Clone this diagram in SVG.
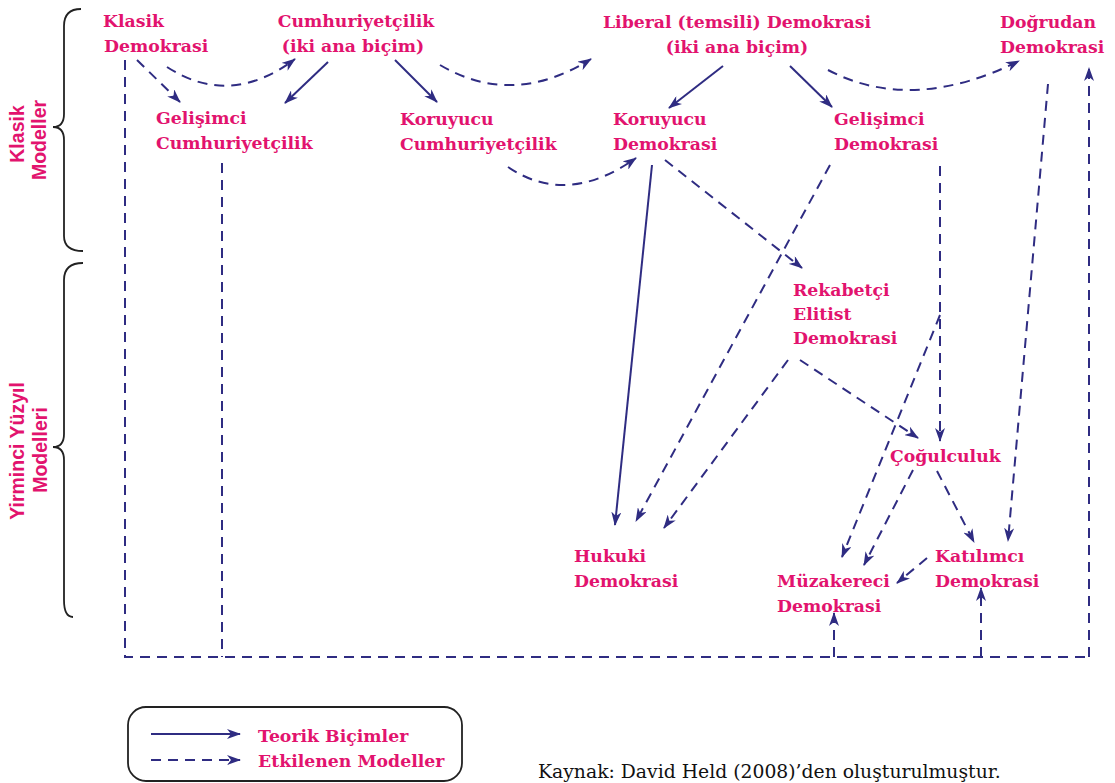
<svg xmlns="http://www.w3.org/2000/svg" width="1115" height="783" viewBox="0 0 1115 783">
  <style>
    .node text { font-family: "DejaVu Serif", serif; font-weight: bold; font-size: 17.3px; fill: #e2136e; }
    .side { font-family: "Liberation Sans", Arial, sans-serif; font-weight: bold; font-size: 19.5px; fill: #e2136e; text-anchor: middle; }
    .solid { fill: none; stroke: #2f2c82; stroke-width: 2; marker-end: url(#head); }
    .dash { fill: none; stroke: #2f2c82; stroke-width: 2; stroke-dasharray: 10 7; }
    .dash.arr { marker-end: url(#head); }
    .brace { fill: none; stroke: #222; stroke-width: 1.8; }
    .src { font-family: "DejaVu Serif", serif; font-size: 18.8px; fill: #111; }
  </style>
  <defs>
    <marker id="head" viewBox="0 0 14 10" refX="13" refY="5" markerWidth="14" markerHeight="10" markerUnits="userSpaceOnUse" orient="auto">
      <path d="M0,0 L14,5 L0,10 L4,5 z" fill="#2f2c82"/>
    </marker>
  </defs>

  <!-- period braces and labels -->
  <g id="period-labels">
    <path class="brace" d="M81,9 Q64,9 64,26 L64,114 Q64,127 53,127 Q64,127 64,140 L64,236 Q64,251 83,251"/>
    <text class="side" transform="translate(24,134) rotate(-90)">Klasik</text>
    <text class="side" transform="translate(46,140) rotate(-90)">Modeller</text>
    <path class="brace" d="M83,263 Q64,263 64,280 L64,434 Q64,447 53,447 Q64,447 64,460 L64,600 Q64,617 73,617"/>
    <text class="side" transform="translate(24,451) rotate(-90)">Yirminci Yüzyıl</text>
    <text class="side" transform="translate(47,450) rotate(-90)">Modelleri</text>
  </g>

  <!-- models -->
  <g id="klasik-demokrasi" class="node"><text x="103" y="27">Klasik</text><text x="104" y="52">Demokrasi</text></g>
  <g id="cumhuriyetcilik" class="node" text-anchor="middle"><text x="356" y="27">Cumhuriyetçilik</text><text x="353" y="52">(iki ana biçim)</text></g>
  <g id="liberal-demokrasi" class="node" text-anchor="middle"><text x="737" y="28">Liberal (temsili) Demokrasi</text><text x="737" y="53">(iki ana biçim)</text></g>
  <g id="dogrudan-demokrasi" class="node"><text x="1000" y="28">Doğrudan</text><text x="1000" y="53">Demokrasi</text></g>
  <g id="gelisimci-cumhuriyetcilik" class="node"><text x="156" y="124">Gelişimci</text><text x="156" y="149">Cumhuriyetçilik</text></g>
  <g id="koruyucu-cumhuriyetcilik" class="node"><text x="400" y="125">Koruyucu</text><text x="400" y="150">Cumhuriyetçilik</text></g>
  <g id="koruyucu-demokrasi" class="node"><text x="613" y="125">Koruyucu</text><text x="613" y="150">Demokrasi</text></g>
  <g id="gelisimci-demokrasi" class="node"><text x="834" y="125">Gelişimci</text><text x="834" y="150">Demokrasi</text></g>
  <g id="rekabetci-elitist" class="node"><text x="793" y="296">Rekabetçi</text><text x="793" y="320">Elitist</text><text x="793" y="344">Demokrasi</text></g>
  <g id="cogulculuk" class="node"><text x="890" y="462">Çoğulculuk</text></g>
  <g id="hukuki-demokrasi" class="node"><text x="574" y="562">Hukuki</text><text x="574" y="587">Demokrasi</text></g>
  <g id="muzakereci-demokrasi" class="node"><text x="777" y="587">Müzakereci</text><text x="777" y="612">Demokrasi</text></g>
  <g id="katilimci-demokrasi" class="node"><text x="935" y="562">Katılımcı</text><text x="935" y="587">Demokrasi</text></g>

  <!-- connectors -->
  <g id="connectors">
    <!-- theoretical forms (solid) -->
    <path class="solid" d="M328,62 L285,103"/>
    <path class="solid" d="M395,60 L437,102"/>
    <path class="solid" d="M723,66 L669,108"/>
    <path class="solid" d="M790,66 L832,107"/>
    <path class="solid" d="M652,165 L615,525"/>

    <!-- influenced models (dashed) -->
    <path class="dash arr" d="M137,60 L180,102"/>
    <path class="dash arr" d="M167,67 Q230,108 295,59"/>
    <path class="dash arr" d="M440,65 Q513,108 591,59"/>
    <path class="dash arr" d="M828,70 Q912,114 1019,61"/>
    <path class="dash arr" d="M508,167 Q567,207 636,158"/>
    <path class="dash arr" d="M665,160 L802,268"/>
    <path class="dash arr" d="M830,165 L636,521"/>
    <path class="dash arr" d="M788,360 L664,528"/>
    <path class="dash arr" d="M800,360 L918,438"/>
    <path class="dash arr" d="M940,166 L940,441"/>
    <path class="dash arr" d="M940,315 L842,557"/>
    <path class="dash arr" d="M1048,84 L1008,541"/>
    <path class="dash arr" d="M913,470 L864,565"/>
    <path class="dash arr" d="M937,471 L974,542"/>
    <path class="dash arr" d="M927,558 L897,583"/>

    <!-- outer frame routing -->
    <path class="dash" d="M125,60 L125,657 L1089,657"/>
    <path class="dash" d="M222,163 L222,657"/>
    <path class="dash arr" d="M1089,657 L1089,68"/>
    <path class="dash arr" d="M834,657 L834,613"/>
    <path class="dash arr" d="M981,657 L981,588"/>
  </g>

  <!-- legend -->
  <g id="legend">
    <rect x="128" y="707" width="334" height="74" rx="18" ry="18" fill="none" stroke="#222" stroke-width="1.8"/>
    <path class="solid" d="M151,734 L240,734"/>
    <path class="dash arr" d="M151,760 L240,760"/>
    <g class="node"><text x="258" y="742">Teorik Biçimler</text><text x="258" y="767">Etkilenen Modeller</text></g>
  </g>

  <text id="source" class="src" x="538" y="778">Kaynak: David Held (2008)’den oluşturulmuştur.</text>
</svg>
